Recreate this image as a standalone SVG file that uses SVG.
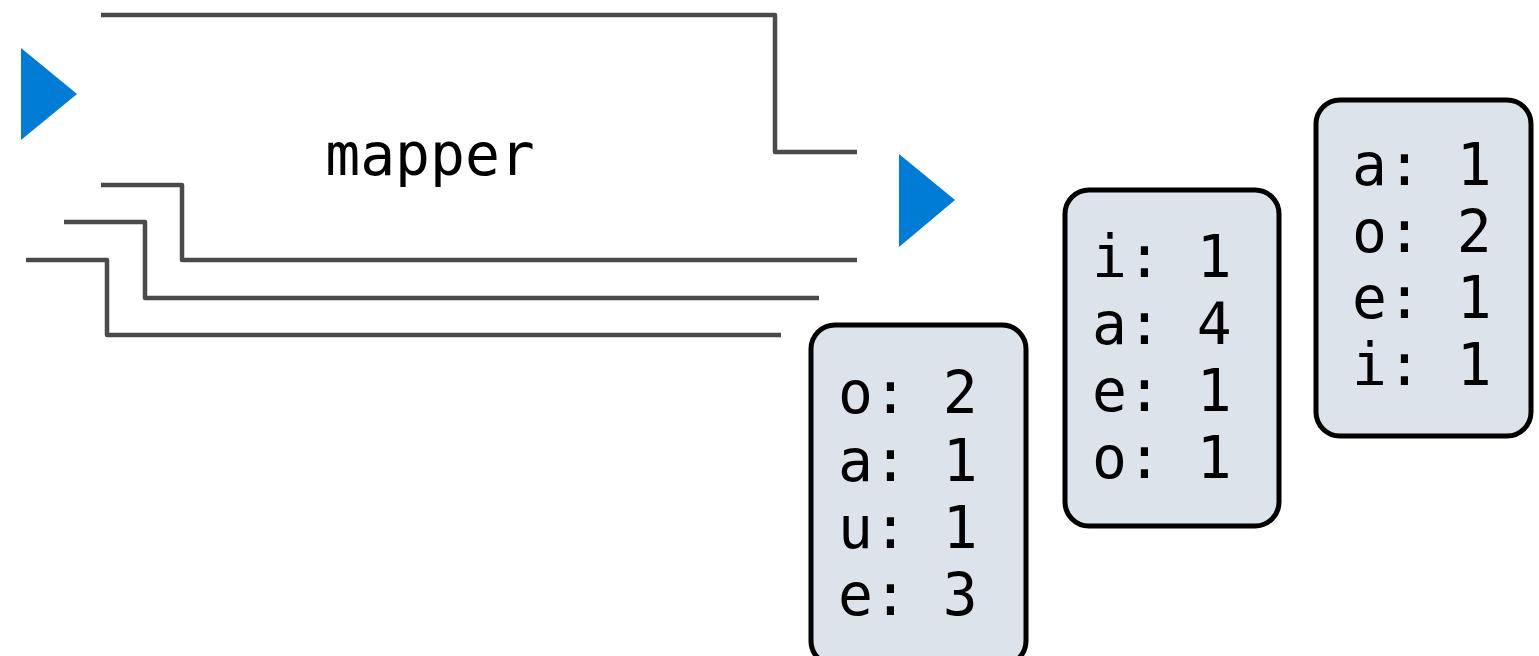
<svg xmlns="http://www.w3.org/2000/svg" width="1539" height="656" viewBox="0 0 1539 656">
  <style>
    .wire { fill: none; stroke: #4a4a4a; stroke-width: 4.5; stroke-linejoin: round; }
    .play { fill: #007bd6; }
    .card { fill: #dce3ea; stroke: #000; stroke-width: 5; }
    .mono { font-family: "DejaVu Sans Mono", "Liberation Mono", monospace; font-size: 58px; fill: #000; }
  </style>

  <!-- mapper stage outline -->
  <g id="connectors">
    <path class="wire" d="M101,15 H775 V152 H857"/>
    <path class="wire" d="M101,185 H182 V260 H857"/>
    <path class="wire" d="M64,222 H145 V298 H819"/>
    <path class="wire" d="M26,260 H107 V335 H781"/>
  </g>

  <g id="input-marker">
    <polygon class="play" points="21,48 77,94 21,140"/>
  </g>
  <g id="output-marker">
    <polygon class="play" points="899,154 955,200 899,247"/>
  </g>

  <g id="mapper">
    <text class="mono" x="430" y="175" text-anchor="middle">mapper</text>
  </g>

  <!-- per-document vowel counts -->
  <g id="counts-1">
    <rect class="card" x="811" y="325" width="215" height="340" rx="24"/>
    <text class="mono" x="838" y="413">o: 2</text>
    <text class="mono" x="838" y="481">a: 1</text>
    <text class="mono" x="838" y="548">u: 1</text>
    <text class="mono" x="838" y="615">e: 3</text>
  </g>
  <g id="counts-2">
    <rect class="card" x="1065" y="190" width="214" height="336" rx="24"/>
    <text class="mono" x="1092" y="277">i: 1</text>
    <text class="mono" x="1092" y="344">a: 4</text>
    <text class="mono" x="1092" y="411">e: 1</text>
    <text class="mono" x="1092" y="478">o: 1</text>
  </g>
  <g id="counts-3">
    <rect class="card" x="1316" y="100" width="215" height="336" rx="24"/>
    <text class="mono" x="1352" y="185">a: 1</text>
    <text class="mono" x="1352" y="252">o: 2</text>
    <text class="mono" x="1352" y="318">e: 1</text>
    <text class="mono" x="1352" y="385">i: 1</text>
  </g>
</svg>
